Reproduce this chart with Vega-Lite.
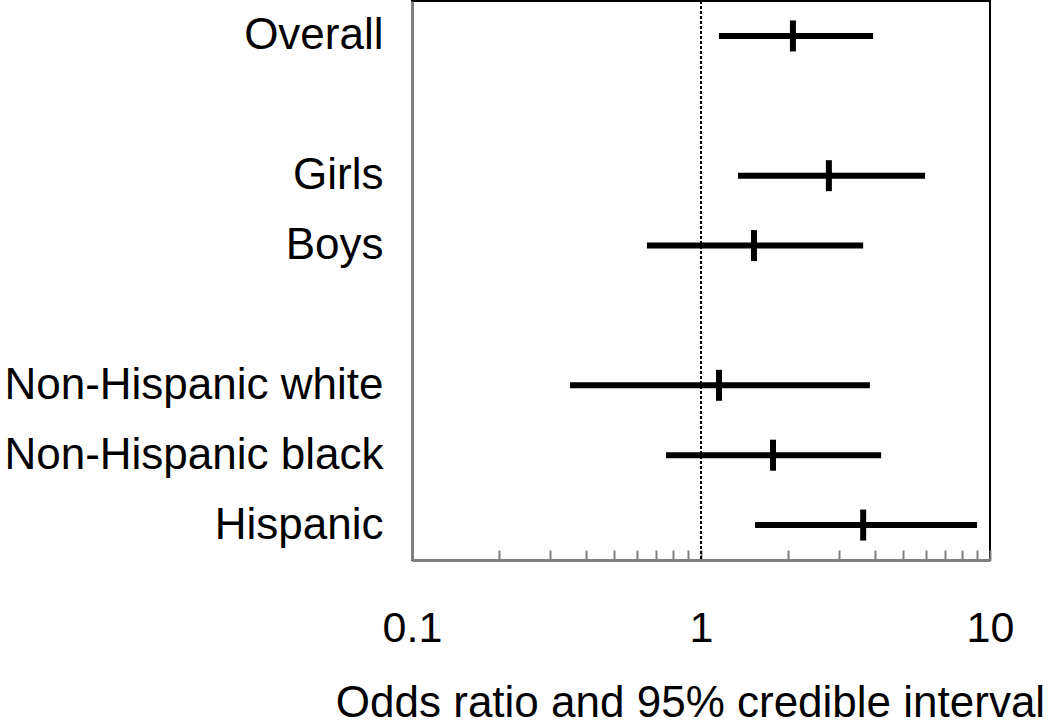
{
  "$schema": "https://vega.github.io/schema/vega-lite/v6.json",
  "width": 578,
  "height": 559,
  "autosize": {"type": "none"},
  "padding": {"left": 412, "top": 1, "right": 60, "bottom": 161},
  "background": "white",
  "config": {
    "font": "Liberation Sans",
    "view": {"stroke": "black", "strokeWidth": 2}
  },
  "data": {
    "values": [
      {"group": "Overall", "or": 2.08, "lo": 1.154, "hi": 3.94},
      {"group": "Girls", "or": 2.77, "lo": 1.343, "hi": 5.96},
      {"group": "Boys", "or": 1.525, "lo": 0.65, "hi": 3.64},
      {"group": "Non-Hispanic white", "or": 1.154, "lo": 0.352, "hi": 3.84},
      {"group": "Non-Hispanic black", "or": 1.775, "lo": 0.757, "hi": 4.2},
      {"group": "Hispanic", "or": 3.64, "lo": 1.538, "hi": 9.02}
    ]
  },
  "layer": [
    {
      "mark": {"type": "rule", "color": "black", "strokeWidth": 6, "strokeCap": "butt"},
      "encoding": {
        "y": {
          "field": "group", "type": "nominal",
          "scale": {"type": "point", "padding": 0.5, "domain": ["Overall", " ", "Girls", "Boys", "  ", "Non-Hispanic white", "Non-Hispanic black", "Hispanic"]},
          "axis": {"title": null, "ticks": false, "domain": true, "domainColor": "#7f7f7f", "domainWidth": 3, "labelFontSize": 44, "labelPadding": 29, "labelColor": "black", "labelLimit": 0, "grid": false}
        },
        "x": {
          "field": "lo", "type": "quantitative",
          "scale": {"type": "log", "domain": [0.1, 10], "nice": false},
          "title": "Odds ratio and 95% credible interval",
          "axis": {
            "values": [0.1, 0.2, 0.3, 0.4, 0.5, 0.6, 0.7, 0.8, 0.9, 1, 2, 3, 4, 5, 6, 7, 8, 9, 10],
            "labelExpr": "datum.value == 0.1 ? '0.1' : datum.value == 1 ? '1' : datum.value == 10 ? '10' : ''",
            "labelOverlap": false, "labelFlush": false, "labelBound": false,
            "tickSize": -10, "tickColor": "#7f7f7f", "tickWidth": 2,
            "domainColor": "#7f7f7f", "domainWidth": 3, "grid": false,
            "labelFontSize": 43, "labelColor": "black", "labelPadding": 57,
            "titleFontSize": 44, "titleFontWeight": "normal", "titleColor": "black", "titlePadding": 31, "titleX": 278
          }
        },
        "x2": {"field": "hi"}
      }
    },
    {
      "mark": {"type": "tick", "color": "black", "size": 31, "thickness": 6, "opacity": 1},
      "encoding": {
        "y": {"field": "group", "type": "nominal"},
        "x": {
          "field": "or", "type": "quantitative",
          "title": "Odds ratio and 95% credible interval"
        }
      }
    },
    {
      "mark": {"type": "rule", "color": "black", "strokeWidth": 2, "strokeDash": [3, 2]},
      "encoding": {
        "x": {"datum": 1, "type": "quantitative", "title": "Odds ratio and 95% credible interval"}
      }
    }
  ]
}
